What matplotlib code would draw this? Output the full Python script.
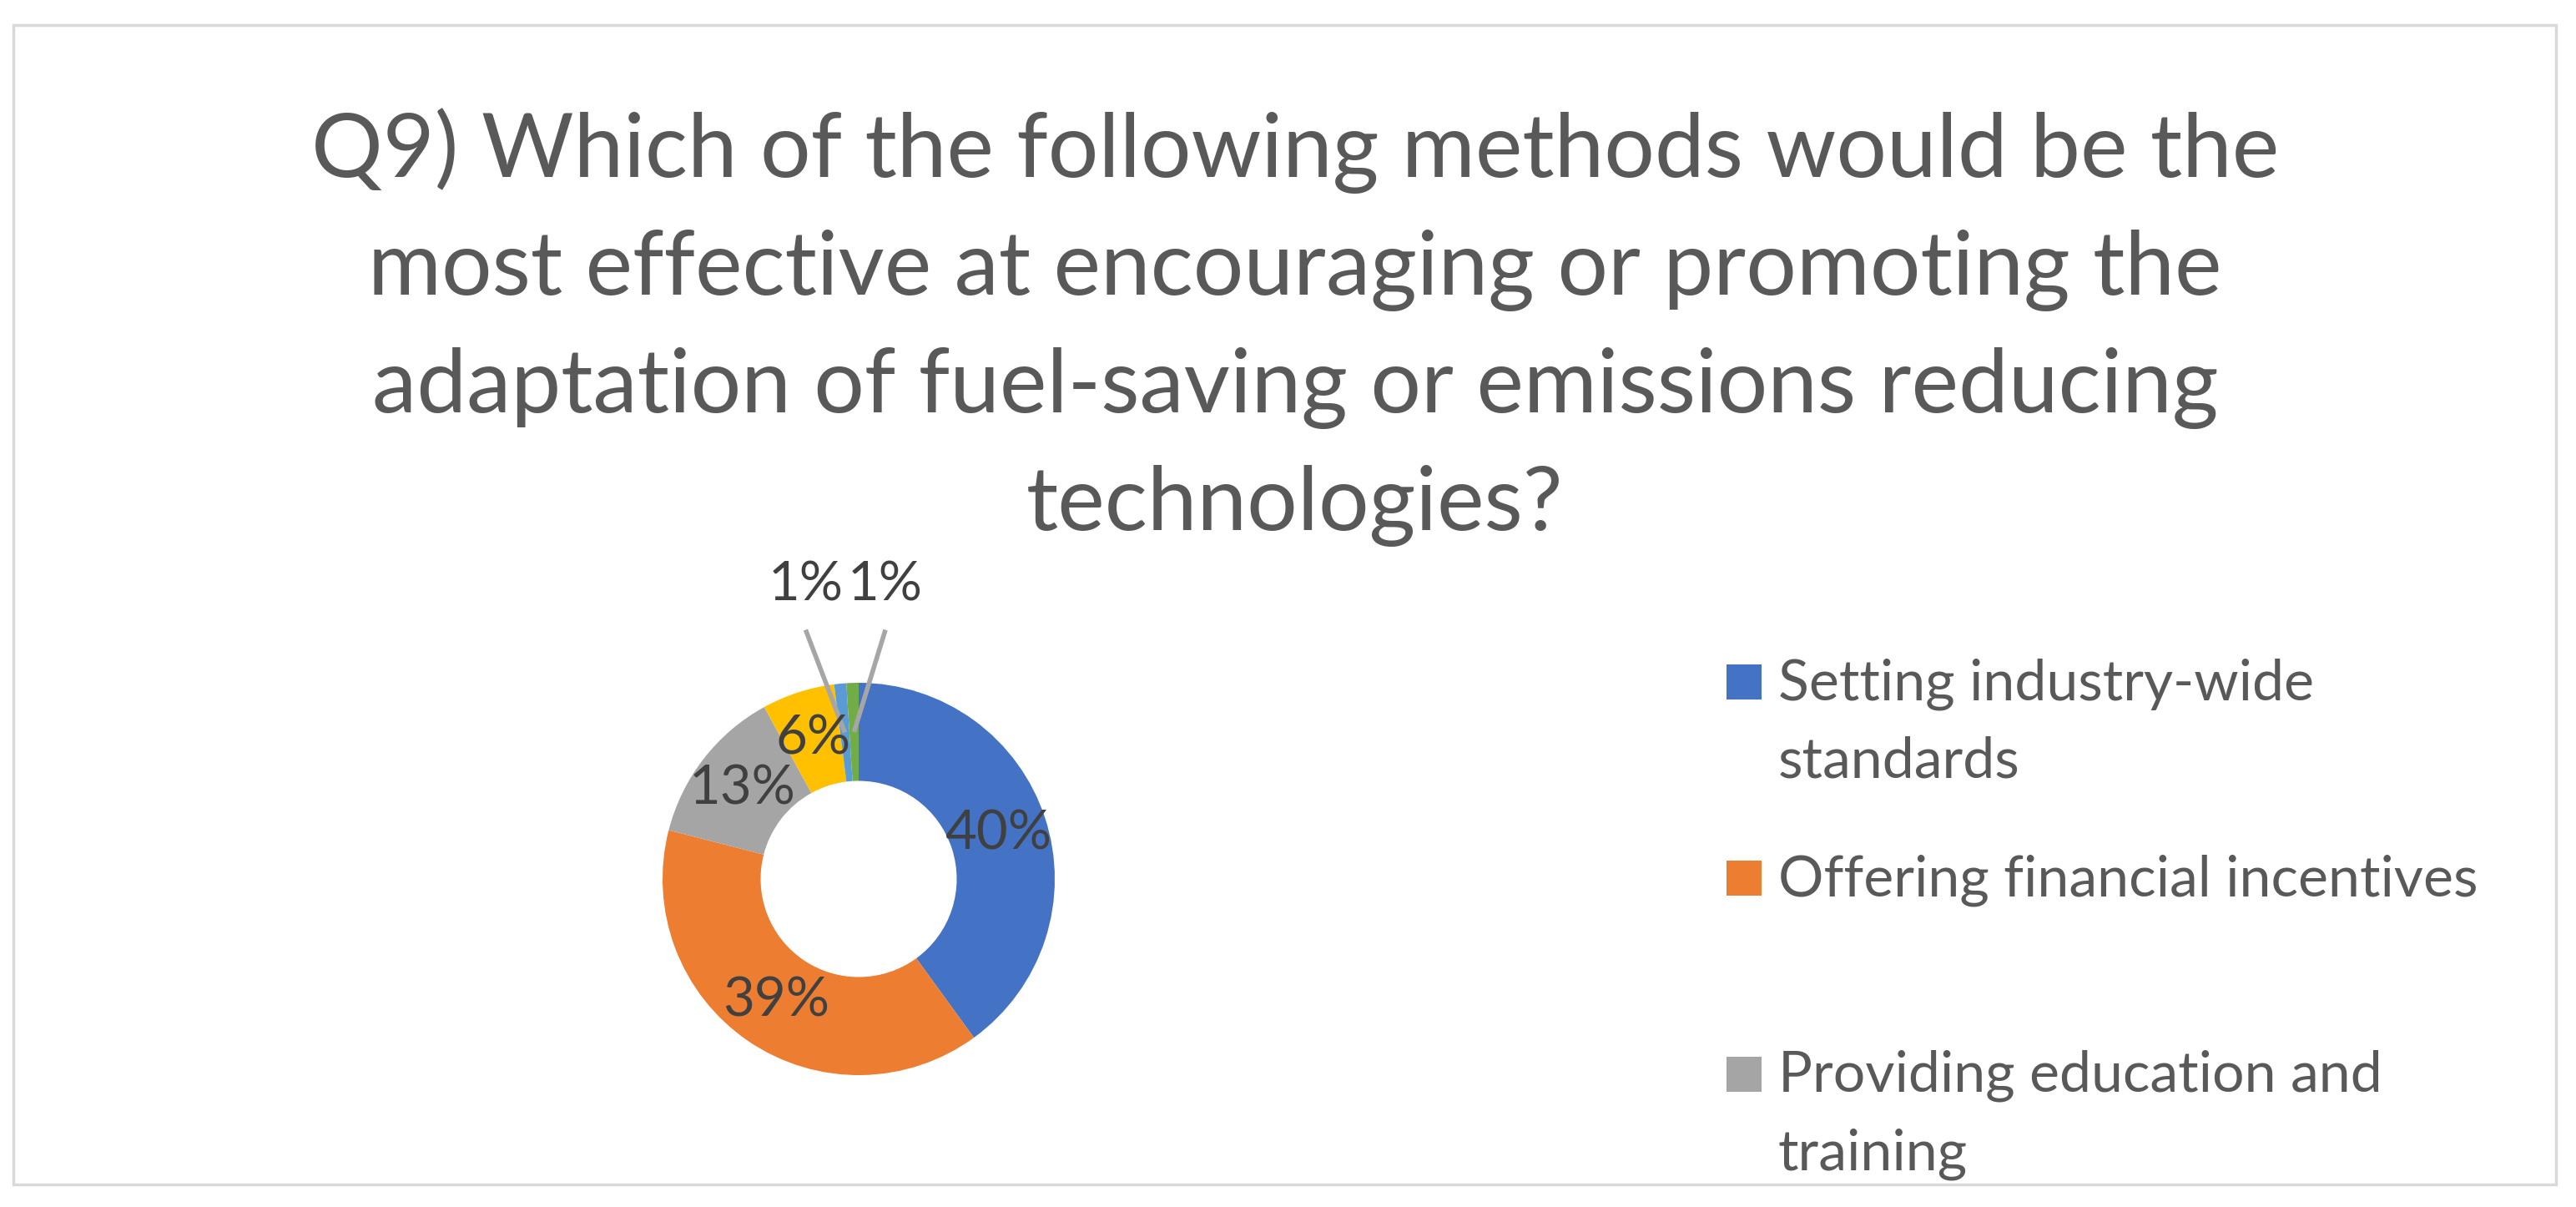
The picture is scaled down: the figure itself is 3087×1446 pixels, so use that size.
import numpy as np
import matplotlib
matplotlib.use("Agg")
import matplotlib.pyplot as plt
from matplotlib.patches import Rectangle

plt.rcParams['font.family'] = ['Lato', 'DejaVu Sans']

# ---- data ----
shares = [40, 39, 13, 6, 1, 1]
colors = ['#4472C4', '#ED7D31', '#A5A5A5', '#FFC000', '#5B9BD5', '#70AD47']
legend_labels = ['Setting industry-wide\nstandards',
                 'Offering financial incentives',
                 'Providing education and\ntraining']
title_text = ("Q9) Which of the following methods would be the\n"
              "most effective at encouraging or promoting the\n"
              "adaptation of fuel-saving or emissions reducing\n"
              "technologies?")

W, H = 3087, 1446
fig = plt.figure(figsize=(W / 100, H / 100), dpi=100)


def fx(px):
    return px / W


def fy(py):
    return 1 - py / H


# chart frame
fig.patches.append(Rectangle((fx(16), fy(1419)), fx(3063) - fx(16), fy(30) - fy(1419),
                             transform=fig.transFigure, fill=False,
                             edgecolor='#D9D9D9', linewidth=2.5))

# title, one text per line
for i, line in enumerate(title_text.split('\n')):
    fig.text(fx(1552), fy(212 + i * 141), line, ha='center', va='baseline',
             fontsize=77, color='#595959')

# doughnut
R = 235
cx, cy = 1029, 1053
lim = 1.6
ax = fig.add_axes([fx(cx - lim * R), 1 - (cy + lim * R) / H, 2 * lim * R / W, 2 * lim * R / H])
wedges, _ = ax.pie(shares, colors=colors, startangle=90, counterclock=False,
                   radius=1, wedgeprops=dict(width=0.5, edgecolor='none'))
ax.set_xlim(-lim, lim)
ax.set_ylim(-lim, lim)
ax.set_aspect('equal')
ax.axis('off')

small_dx = [-0.20, 0.16]
k = 0
for w, v in zip(wedges, shares):
    mid = np.deg2rad((w.theta1 + w.theta2) / 2)
    px, py = 0.75 * np.cos(mid), 0.75 * np.sin(mid)
    if v >= 3:
        ax.text(px, py, f"{v}%", ha='center', va='center', fontsize=47, color='#404040')
    else:
        lx = px + small_dx[k]
        k += 1
        ax.plot([px, lx], [py, 1.27], color='#A6A6A6', lw=4, solid_capstyle='butt')
        ax.text(lx, 1.50, f"{v}%", ha='center', va='center', fontsize=47, color='#404040')

# legend (only the first three entries fit in the frame)
for i, (lab, c) in enumerate(zip(legend_labels, colors)):
    base = 838 + i * 235
    fig.patches.append(Rectangle((fx(2069), fy(base)), fx(42), 42 / H,
                                 transform=fig.transFigure, facecolor=c, edgecolor='none'))
    for j, line in enumerate(lab.split('\n')):
        fig.text(fx(2131), fy(base + j * 93), line, ha='left', va='baseline',
                 fontsize=49, color='#595959')

fig.savefig('out.png', dpi=100)
